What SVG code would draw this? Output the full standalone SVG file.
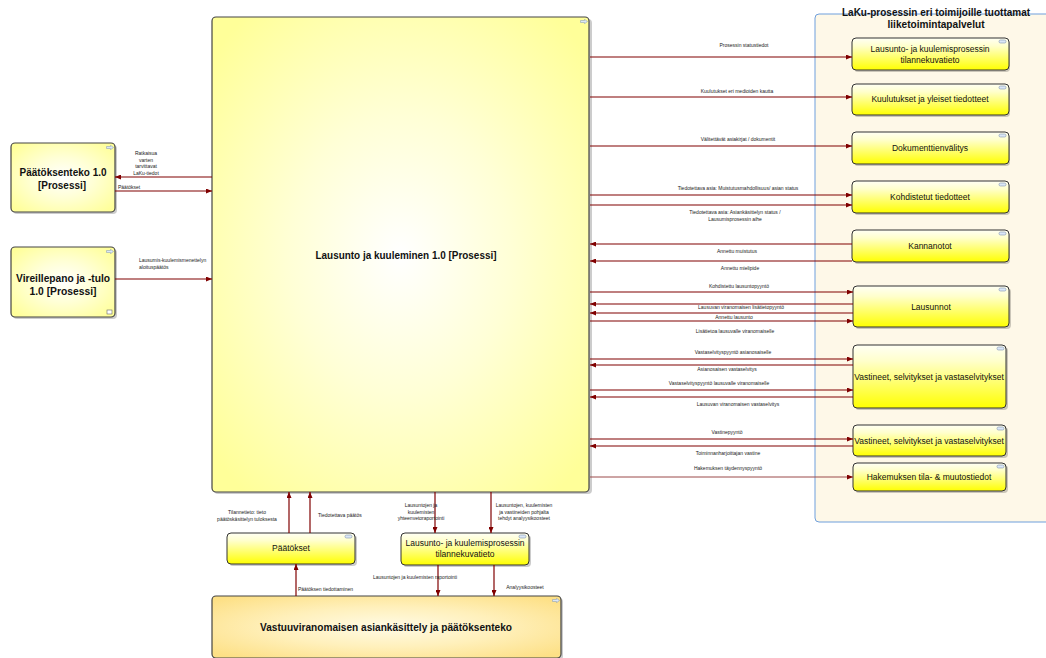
<svg xmlns="http://www.w3.org/2000/svg" width="1046" height="658" viewBox="0 0 1046 658">
<style>
.lbl{font-family:"Liberation Sans",Arial,sans-serif;font-size:5px;fill:#222;}
.mid{text-anchor:middle;}
.nt{font-family:"Liberation Sans",Arial,sans-serif;font-size:8.5px;fill:#111;text-anchor:middle;}
.bt{font-family:"Liberation Sans",Arial,sans-serif;font-weight:bold;fill:#111;text-anchor:middle;}
.con{stroke:#800000;stroke-width:1.2;fill:none;}
.ar{marker-end:url(#ah);}
.svc{fill:url(#gSvc);stroke:#333;stroke-width:1;}
.proc{fill:url(#gProc);stroke:#444;stroke-width:1.2;}
.shd{fill:#000;opacity:0.2;}
.ico{fill:#dbe7f7;stroke:#8094b0;stroke-width:0.6;}
</style>
<defs>
<marker id="ah" markerWidth="6" markerHeight="5" refX="6" refY="2.5" orient="auto" markerUnits="userSpaceOnUse">
<path d="M0,0 L6,2.5 L0,5 z" fill="#800000"/>
</marker>
<linearGradient id="gSvc" x1="0" y1="0" x2="0" y2="1">
<stop offset="0" stop-color="#fffff5"/>
<stop offset="0.25" stop-color="#ffffcc"/>
<stop offset="1" stop-color="#ffff00"/>
</linearGradient>
<radialGradient id="gProc" cx="50%" cy="50%" r="65%">
<stop offset="0" stop-color="#ffffff"/>
<stop offset="0.45" stop-color="#ffffd6"/>
<stop offset="1" stop-color="#ffff99"/>
</radialGradient>
<radialGradient id="gVast" cx="50%" cy="50%" r="65%">
<stop offset="0" stop-color="#fffbe6"/>
<stop offset="0.5" stop-color="#fff0bb"/>
<stop offset="1" stop-color="#fde086"/>
</radialGradient>
<symbol id="arrIco" viewBox="0 0 8 5">
<path d="M0.5,1.5 H4.5 V0.3 L7.5,2.5 L4.5,4.7 V3.5 H0.5 z" fill="#dbe7f7" stroke="#8094b0" stroke-width="0.5"/>
</symbol>
</defs>

<!-- container -->
<g id="container">
<rect x="815" y="14" width="240" height="508" rx="4" fill="#fef8e8" stroke="#6f9fdc" stroke-width="1"/>
<text class="bt" x="936" y="16" font-size="10" textLength="188" lengthAdjust="spacingAndGlyphs">LaKu-prosessin eri toimijoille tuottamat</text>
<text class="bt" x="936" y="28" font-size="10" textLength="97" lengthAdjust="spacingAndGlyphs">liiketoimintapalvelut</text>
</g>

<!-- main node -->
<g id="n-main">
<rect class="shd" x="214" y="19" width="378" height="475" rx="4"/>
<rect class="proc" x="212" y="17" width="377" height="475" rx="4"/>
<use href="#arrIco" x="580" y="19" width="8" height="5"/>
<text class="bt" x="406" y="259" font-size="10" textLength="181" lengthAdjust="spacingAndGlyphs">Lausunto ja kuuleminen 1.0 [Prosessi]</text>
</g>

<!-- left nodes -->
<g id="n-paatoksenteko">
<rect class="shd" x="13" y="145" width="104" height="69" rx="4"/>
<rect class="proc" x="11" y="143" width="104" height="69" rx="4"/>
<use href="#arrIco" x="106" y="145" width="8" height="5"/>
<text class="bt" x="63" y="176" font-size="11" textLength="87" lengthAdjust="spacingAndGlyphs">Päätöksenteko 1.0</text>
<text class="bt" x="62" y="189" font-size="11" textLength="48" lengthAdjust="spacingAndGlyphs">[Prosessi]</text>
</g>
<g id="n-vireillepano">
<rect class="shd" x="13" y="249" width="104" height="70" rx="4"/>
<rect class="proc" x="11" y="247" width="104" height="70" rx="4"/>
<use href="#arrIco" x="106" y="249" width="8" height="5"/>
<rect x="107" y="310" width="5" height="4" fill="#fff" stroke="#666" stroke-width="0.6"/>
<text class="bt" x="63" y="282" font-size="11" textLength="94" lengthAdjust="spacingAndGlyphs">Vireillepano ja -tulo</text>
<text class="bt" x="63" y="295" font-size="11" textLength="67" lengthAdjust="spacingAndGlyphs">1.0 [Prosessi]</text>
</g>

<!-- right service nodes -->
<g id="n-tilannekuva1">
<rect class="shd" x="854" y="40" width="156" height="32" rx="4"/>
<rect class="svc" x="852" y="38" width="157" height="32" rx="4"/>
<rect class="ico" x="999" y="40" width="7" height="3" rx="1.5"/>
<text class="nt" x="930" y="52">Lausunto- ja kuulemisprosessin</text>
<text class="nt" x="930" y="63">tilannekuvatieto</text>
</g>
<g id="n-kuulutukset">
<rect class="shd" x="854" y="86" width="156" height="31" rx="4"/>
<rect class="svc" x="852" y="84" width="157" height="31" rx="4"/>
<rect class="ico" x="999" y="86" width="7" height="3" rx="1.5"/>
<text class="nt" x="930" y="102">Kuulutukset ja yleiset tiedotteet</text>
</g>
<g id="n-dokumentti">
<rect class="shd" x="854" y="134" width="156" height="32" rx="4"/>
<rect class="svc" x="852" y="132" width="157" height="32" rx="4"/>
<rect class="ico" x="999" y="134" width="7" height="3" rx="1.5"/>
<text class="nt" x="930" y="151">Dokumenttienvälitys</text>
</g>
<g id="n-kohdistetut">
<rect class="shd" x="854" y="183" width="156" height="32" rx="4"/>
<rect class="svc" x="852" y="181" width="157" height="32" rx="4"/>
<rect class="ico" x="999" y="183" width="7" height="3" rx="1.5"/>
<text class="nt" x="930" y="200">Kohdistetut tiedotteet</text>
</g>
<g id="n-kannanotot">
<rect class="shd" x="854" y="232" width="156" height="32" rx="4"/>
<rect class="svc" x="852" y="230" width="157" height="32" rx="4"/>
<rect class="ico" x="999" y="232" width="7" height="3" rx="1.5"/>
<text class="nt" x="930" y="249">Kannanotot</text>
</g>
<g id="n-lausunnot">
<rect class="shd" x="855" y="288" width="156" height="41" rx="4"/>
<rect class="svc" x="853" y="286" width="156" height="41" rx="4"/>
<rect class="ico" x="999" y="288" width="7" height="3" rx="1.5"/>
<text class="nt" x="931" y="310">Lausunnot</text>
</g>
<g id="n-vastineet1">
<rect class="shd" x="855" y="347" width="153" height="63" rx="4"/>
<rect class="svc" x="853" y="345" width="153" height="63" rx="4"/>
<rect class="ico" x="997" y="347" width="7" height="3" rx="1.5"/>
<text class="nt" x="929" y="380">Vastineet, selvitykset ja vastaselvitykset</text>
</g>
<g id="n-vastineet2">
<rect class="shd" x="855" y="427" width="153" height="31" rx="4"/>
<rect class="svc" x="853" y="425" width="153" height="31" rx="4"/>
<rect class="ico" x="997" y="427" width="7" height="3" rx="1.5"/>
<text class="nt" x="929" y="444">Vastineet, selvitykset ja vastaselvitykset</text>
</g>
<g id="n-hakemus">
<rect class="shd" x="855" y="465" width="153" height="28" rx="4"/>
<rect class="svc" x="853" y="463" width="153" height="28" rx="4"/>
<rect class="ico" x="997" y="465" width="7" height="3" rx="1.5"/>
<text class="nt" x="929" y="480">Hakemuksen tila- &amp; muutostiedot</text>
</g>

<!-- bottom nodes -->
<g id="n-paatokset">
<rect class="shd" x="229" y="535" width="128" height="31" rx="4"/>
<rect class="svc" x="227" y="533" width="128" height="31" rx="4"/>
<rect class="ico" x="345" y="535" width="7" height="3" rx="1.5"/>
<text class="nt" x="291" y="551">Päätökset</text>
</g>
<g id="n-tilannekuva2">
<rect class="shd" x="403" y="535" width="128" height="32" rx="4"/>
<rect class="svc" x="401" y="533" width="128" height="32" rx="4"/>
<rect class="ico" x="519" y="535" width="7" height="3" rx="1.5"/>
<text class="nt" x="465" y="546">Lausunto- ja kuulemisprosessin</text>
<text class="nt" x="465" y="557">tilannekuvatieto</text>
</g>
<g id="n-vastuu">
<rect class="shd" x="214" y="598" width="349" height="62" rx="4"/>
<rect x="212" y="596" width="349" height="62" rx="4" fill="url(#gVast)" stroke="#444" stroke-width="1.2"/>
<use href="#arrIco" x="552" y="598" width="8" height="5"/>
<text class="bt" x="386" y="631" font-size="10.5" textLength="252" lengthAdjust="spacingAndGlyphs">Vastuuviranomaisen asiankäsittely  ja päätöksenteko</text>
</g>

<!-- connectors -->
<g id="connectors">
<line class="con ar" x1="590" y1="57" x2="852" y2="57"/>
<line class="con ar" x1="590" y1="97" x2="852" y2="97"/>
<line class="con ar" x1="590" y1="146" x2="852" y2="146"/>
<line class="con ar" x1="590" y1="195" x2="852" y2="195"/>
<line class="con ar" x1="590" y1="205" x2="852" y2="205"/>
<line class="con ar" x1="852" y1="244" x2="590" y2="244"/>
<line class="con ar" x1="852" y1="261" x2="590" y2="261"/>
<line class="con ar" x1="590" y1="292" x2="853" y2="292"/>
<line class="con ar" x1="853" y1="304" x2="590" y2="304"/>
<line class="con ar" x1="853" y1="313" x2="590" y2="313"/>
<line class="con ar" x1="590" y1="321" x2="853" y2="321"/>
<line class="con ar" x1="590" y1="359" x2="853" y2="359"/>
<line class="con ar" x1="853" y1="365" x2="590" y2="365"/>
<line class="con ar" x1="590" y1="390" x2="853" y2="390"/>
<line class="con ar" x1="853" y1="397" x2="590" y2="397"/>
<line class="con ar" x1="590" y1="439" x2="853" y2="439"/>
<line class="con ar" x1="853" y1="446" x2="590" y2="446"/>
<line class="con ar" x1="590" y1="477" x2="853" y2="477" style="stroke:#9b4a4a;stroke-width:1"/>

<line class="con ar" x1="212" y1="177" x2="115" y2="177"/>
<line class="con ar" x1="115" y1="191" x2="212" y2="191"/>
<line class="con ar" x1="115" y1="279" x2="212" y2="279"/>

<line class="con ar" x1="289" y1="533" x2="289" y2="492"/>
<line class="con ar" x1="310" y1="533" x2="310" y2="492"/>
<line class="con ar" x1="296" y1="596" x2="296" y2="564"/>
<line class="con ar" x1="435" y1="492" x2="435" y2="533"/>
<line class="con ar" x1="491" y1="492" x2="491" y2="533"/>
<line class="con ar" x1="438" y1="565" x2="438" y2="596"/>
<line class="con ar" x1="494" y1="565" x2="494" y2="596"/>

<!-- labels -->
<text class="lbl mid" x="744" y="47">Prosessin statustiedot</text>
<text class="lbl mid" x="737" y="93">Kuulutukset eri medioiden kautta</text>
<text class="lbl mid" x="738" y="141">Välitettävät asiakirjat / dokumentit</text>
<text class="lbl mid" x="738" y="190">Tiedotettava asia: Muistutusmahdollisuus/ asian status</text>
<text class="lbl mid" x="735" y="214">Tiedotettava asia: Asiankäsittelyn status /</text>
<text class="lbl mid" x="735" y="221">Lausumisprosessin aihe</text>
<text class="lbl mid" x="737" y="253">Annettu muistutus</text>
<text class="lbl mid" x="740" y="270">Annettu mielipide</text>
<text class="lbl mid" x="739" y="288">Kohdistettu lausuntopyyntö</text>
<text class="lbl mid" x="741" y="309">Lausuvan viranomaisen lisätietopyyntö</text>
<text class="lbl mid" x="734" y="318.5">Annettu lausunto</text>
<text class="lbl mid" x="735" y="333">Lisätietoa lausuvalle  viranomaiselle</text>
<text class="lbl mid" x="733" y="354">Vastaselvityspyyntö asianosaiselle</text>
<text class="lbl mid" x="727" y="371">Asianosaisen vastaselvitys</text>
<text class="lbl mid" x="719" y="385">Vastaselvityspyyntö lausuvalle viranomaiselle</text>
<text class="lbl mid" x="738" y="406">Lausuvan viranomaisen vastaselvitys</text>
<text class="lbl mid" x="727" y="434">Vastinepyyntö</text>
<text class="lbl mid" x="728" y="455">Toiminnanharjoittajan vastine</text>
<text class="lbl mid" x="728" y="470">Hakemuksen täydennyspyyntö</text>

<text class="lbl mid" x="146" y="155">Ratkaisua</text>
<text class="lbl mid" x="146" y="161.5">varten</text>
<text class="lbl mid" x="146" y="168">tarvittavat</text>
<text class="lbl mid" x="146" y="174.5">LaKu-tiedot</text>
<text class="lbl" x="118" y="189">Päätökset</text>
<text class="lbl" x="139" y="262">Lausumis-kuulemismenettelyn</text>
<text class="lbl" x="139" y="269">aloituspäätös</text>

<text class="lbl mid" x="247" y="514">Tilannetieto: tieto</text>
<text class="lbl mid" x="247" y="521">päätöskäsittelyn tuloksesta</text>
<text class="lbl" x="318" y="517">Tiedotettava päätös</text>
<text class="lbl mid" x="421" y="507">Lausuntojen ja</text>
<text class="lbl mid" x="421" y="513.5">kuulemisten</text>
<text class="lbl mid" x="421" y="520">yhteenvetoraportointi</text>
<text class="lbl mid" x="524" y="507">Lausuntojen, kuulemisten</text>
<text class="lbl mid" x="524" y="513.5">ja vastineiden pohjalta</text>
<text class="lbl mid" x="524" y="520">tehdyt analyysikoosteet</text>
<text class="lbl mid" x="415" y="579">Lausuntojen ja kuulemisten raportointi</text>
<text class="lbl mid" x="525" y="589">Analyysikoosteet</text>
<text class="lbl" x="298" y="591">Päätöksen tiedottaminen</text>
</g>
</svg>
